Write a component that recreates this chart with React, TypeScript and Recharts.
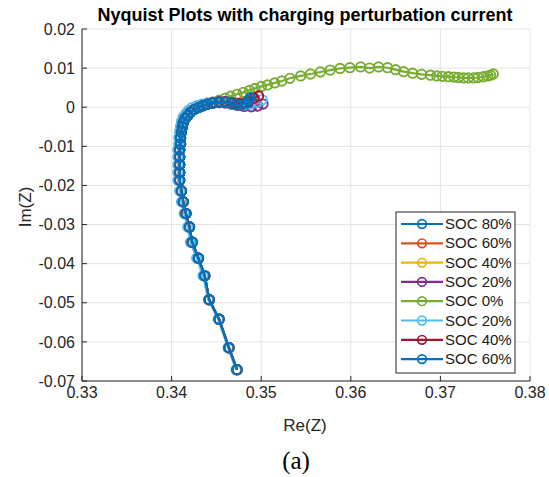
import React from 'react';
import { ScatterChart, Scatter, XAxis, YAxis, CartesianGrid } from 'recharts';

const xTicks = [0.33, 0.34, 0.35, 0.36, 0.37, 0.38];
const yTicks = [-0.07, -0.06, -0.05, -0.04, -0.03, -0.02, -0.01, 0, 0.01, 0.02];

const seriesNames = ['SOC 80%', 'SOC 60%', 'SOC 40%', 'SOC 20%', 'SOC 0%', 'SOC 20%', 'SOC 40%', 'SOC 60%'];
const seriesColors = ['#0072BD', '#D95319', '#EDB120', '#7E2F8E', '#77AC30', '#4DBEEE', '#A2142F', '#0072BD'];

// inductive branch, most SOC curves lie on top of each other here
const trunkRe = [
  0.3473, 0.3464, 0.3453, 0.3442, 0.3437, 0.3430, 0.3423, 0.3420, 0.3416, 0.3413,
  0.3411, 0.3409, 0.3409, 0.3409, 0.3409, 0.3409, 0.3410, 0.3410, 0.3411, 0.3412,
  0.3413, 0.3415, 0.3418, 0.3421, 0.3425, 0.3430, 0.3435, 0.3440,
];
const trunkIm = [
  -0.0671, -0.0615, -0.0542, -0.0492, -0.0431, -0.0386, -0.0345, -0.0306, -0.0272, -0.0242,
  -0.0214, -0.0187, -0.0167, -0.0147, -0.0127, -0.0109, -0.0094, -0.0078, -0.0064, -0.0051,
  -0.0040, -0.0029, -0.0021, -0.0013, -0.0006, -0.0001, 0.0004, 0.0008,
];
// discharge-side SOC 20% runs a little outside the others
const trunkLbRe = [
  0.3472, 0.3463, 0.3452, 0.3441, 0.3435, 0.3428, 0.3421, 0.3418, 0.3414, 0.3411,
  0.3409, 0.3407, 0.3407, 0.3407, 0.3407, 0.3407, 0.3408, 0.3408, 0.3409, 0.3410,
  0.3411, 0.3413, 0.3416, 0.3419, 0.3423, 0.3428, 0.3434, 0.3440,
];
const trunkLbIm = [
  -0.0671, -0.0615, -0.0542, -0.0492, -0.0431, -0.0386, -0.0345, -0.0306, -0.0272, -0.0242,
  -0.0214, -0.0187, -0.0167, -0.0147, -0.0127, -0.0109, -0.0094, -0.0078, -0.0063, -0.0049,
  -0.0037, -0.0025, -0.0016, -0.0008, -0.0001, 0.0004, 0.0008, 0.0011,
];

// low-frequency ends, one per curve (Re, Im)
const tail80: [number, number][] = [[0.3446, 0.0011], [0.3453, 0.0013], [0.3460, 0.0013], [0.3466, 0.0010], [0.3472, 0.0007], [0.3477, 0.0005], [0.3482, 0.0008], [0.3487, 0.0017], [0.3490, 0.0026]];
const tail60: [number, number][] = [[0.3446, 0.0011], [0.3453, 0.0012], [0.3460, 0.0012], [0.3466, 0.0009], [0.3472, 0.0006], [0.3478, 0.0005], [0.3484, 0.0009], [0.3488, 0.0018]];
const tail40: [number, number][] = [[0.3446, 0.0010], [0.3453, 0.0012], [0.3460, 0.0011], [0.3467, 0.0008], [0.3474, 0.0005], [0.3480, 0.0004], [0.3486, 0.0007], [0.3490, 0.0014]];
const tail20: [number, number][] = [[0.3446, 0.0010], [0.3453, 0.0012], [0.3460, 0.0011], [0.3467, 0.0008], [0.3474, 0.0005], [0.3481, 0.0002], [0.3489, 0.0001], [0.3496, 0.0003], [0.3502, 0.0008]];
const tail0: [number, number][] = [
  [0.3446, 0.0013], [0.3453, 0.0018], [0.3460, 0.0023], [0.3466, 0.0028], [0.3473, 0.0033], [0.3480, 0.0038],
  [0.3487, 0.0043], [0.3493, 0.0048], [0.3500, 0.0053], [0.3507, 0.0057], [0.3515, 0.0062], [0.3523, 0.0067],
  [0.3532, 0.0074], [0.3544, 0.0080], [0.3555, 0.0085], [0.3566, 0.0090], [0.3577, 0.0095], [0.3588, 0.0099],
  [0.3599, 0.0101], [0.3611, 0.0103], [0.3621, 0.0100], [0.3631, 0.0103], [0.3641, 0.0101], [0.3650, 0.0096],
  [0.3659, 0.0091], [0.3669, 0.0087], [0.3679, 0.0084], [0.3689, 0.0082], [0.3696, 0.0080], [0.3702, 0.0079],
  [0.3709, 0.0078], [0.3715, 0.0077], [0.3720, 0.0076], [0.3726, 0.0075], [0.3731, 0.0075], [0.3737, 0.0075],
  [0.3742, 0.0076], [0.3748, 0.0078], [0.3753, 0.0080], [0.3756, 0.0082], [0.3759, 0.0085],
];
const tail20b: [number, number][] = [[0.3446, 0.0013], [0.3453, 0.0015], [0.3460, 0.0015], [0.3467, 0.0012], [0.3474, 0.0008], [0.3481, 0.0006], [0.3488, 0.0008], [0.3495, 0.0013], [0.3501, 0.0019]];
const tail40b: [number, number][] = [[0.3446, 0.0012], [0.3453, 0.0014], [0.3460, 0.0014], [0.3467, 0.0012], [0.3474, 0.0010], [0.3480, 0.0010], [0.3486, 0.0015], [0.3492, 0.0023], [0.3497, 0.0029]];
const tail60b: [number, number][] = [[0.3446, 0.0011], [0.3453, 0.0013], [0.3460, 0.0013], [0.3466, 0.0010], [0.3472, 0.0007], [0.3478, 0.0006], [0.3483, 0.0010], [0.3486, 0.0018], [0.3488, 0.0024]];

const tails = [tail80, tail60, tail40, tail20, tail0, tail20b, tail40b, tail60b];

const buildSeries = (i: number) => {
  const re = i === 5 ? trunkLbRe : trunkRe;
  const im = i === 5 ? trunkLbIm : trunkIm;
  return [
    ...re.map((r, k) => ({ re: r, im: im[k] })),
    ...tails[i].map(([r, m]) => ({ re: r, im: m })),
  ];
};

const FONT = '"Liberation Sans", Arial, Helvetica, sans-serif';
const AXIS = '#262626';

const ring = (color: string) => (props: any) => (
  <circle cx={props.cx} cy={props.cy} r={4.7} fill="none" stroke={color} strokeWidth={1.9} />
);

const fmt = (v: number) => String(v);

const LegendBox = () => (
  <svg width={121} height={163} style={{ position: 'absolute', left: 395, top: 211 }}>
    <rect x={1} y={1} width={119} height={161} fill="#fff" stroke={AXIS} strokeWidth={1} />
    {seriesNames.map((name, i) => {
      const y = 13 + i * 19.3;
      return (
        <g key={i}>
          <line x1={6} x2={48} y1={y} y2={y} stroke={seriesColors[i]} strokeWidth={2.2} />
          <circle cx={27} cy={y} r={4.3} fill="none" stroke={seriesColors[i]} strokeWidth={1.7} />
          <text x={50} y={y + 5} fontSize={15} fontFamily={FONT} fill="#1a1a1a">{name}</text>
        </g>
      );
    })}
  </svg>
);

export default function App() {
  return (
    <div style={{ position: 'absolute', left: 0, top: 0, width: 549, height: 477, background: '#fff' }}>
      <ScatterChart width={549} height={477} margin={{ top: 29, right: 19, bottom: 0, left: 0 }}>
        <CartesianGrid xAxisId="b" yAxisId="l" stroke="#e3e3e3" strokeWidth={1} />
        <XAxis
          xAxisId="b"
          type="number"
          dataKey="re"
          domain={[0.33, 0.38]}
          ticks={xTicks}
          allowDataOverflow
          height={96}
          tickSize={-5}
          tickMargin={11}
          tickFormatter={fmt}
          axisLine={{ stroke: AXIS }}
          tickLine={{ stroke: AXIS }}
          tick={{ fill: AXIS, fontSize: 16, fontFamily: FONT }}
        />
        <XAxis
          xAxisId="t"
          orientation="top"
          type="number"
          dataKey="re"
          domain={[0.33, 0.38]}
          ticks={xTicks}
          allowDataOverflow
          height={0}
          tickSize={-5}
          tick={false}
          axisLine={{ stroke: AXIS }}
          tickLine={{ stroke: AXIS }}
        />
        <YAxis
          yAxisId="l"
          type="number"
          dataKey="im"
          domain={[-0.07, 0.02]}
          ticks={yTicks}
          allowDataOverflow
          width={82}
          tickSize={-5}
          tickMargin={12}
          tickFormatter={fmt}
          axisLine={{ stroke: AXIS }}
          tickLine={{ stroke: AXIS }}
          tick={{ fill: AXIS, fontSize: 16, fontFamily: FONT }}
        />
        <YAxis
          yAxisId="r"
          orientation="right"
          type="number"
          dataKey="im"
          domain={[-0.07, 0.02]}
          ticks={yTicks}
          allowDataOverflow
          width={0}
          tickSize={-5}
          tick={false}
          axisLine={{ stroke: AXIS }}
          tickLine={{ stroke: AXIS }}
        />
        {tails.map((_, i) => (
          <Scatter
            key={i}
            name={seriesNames[i]}
            xAxisId="b"
            yAxisId="l"
            data={buildSeries(i)}
            line={{ stroke: seriesColors[i], strokeWidth: 2.2 }}
            lineType="joint"
            shape={ring(seriesColors[i])}
            isAnimationActive={false}
          />
        ))}
      </ScatterChart>
      <svg width={549} height={477} style={{ position: 'absolute', left: 0, top: 0, pointerEvents: 'none' }}>
        <text x={305} y={21} textAnchor="middle" fontSize={18} fontWeight="bold" fontFamily={FONT} fill="#000">
          Nyquist Plots with charging perturbation current
        </text>
        <text x={305} y={431} textAnchor="middle" fontSize={17} fontFamily={FONT} fill={AXIS}>Re(Z)</text>
        <text x={31} y={207} textAnchor="middle" fontSize={17} fontFamily={FONT} fill={AXIS} transform="rotate(-90, 31, 207)">Im(Z)</text>
        <text x={296} y={469} textAnchor="middle" fontSize={25} fontFamily='"Liberation Serif", "Times New Roman", serif' fill="#000">(a)</text>
      </svg>
      <LegendBox />
    </div>
  );
}
